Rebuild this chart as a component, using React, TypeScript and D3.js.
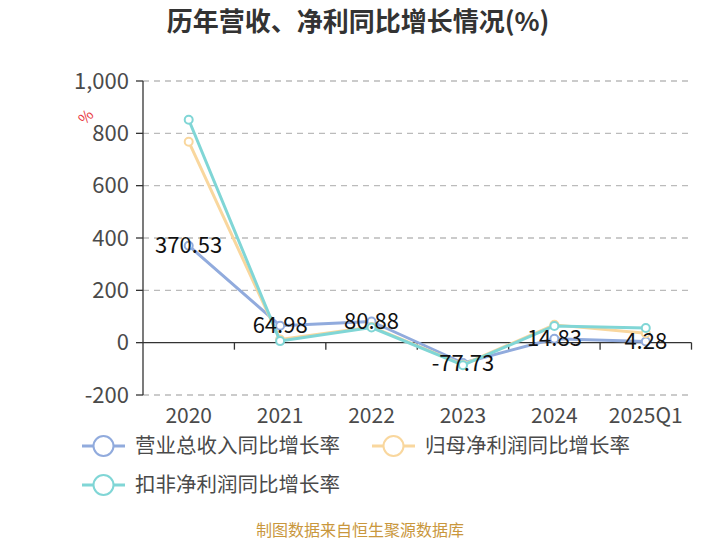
import React from 'react';
import * as d3 from 'd3';

const categories = ['2020', '2021', '2022', '2023', '2024', '2025Q1'];
const revenueGrowth = [370.53, 64.98, 80.88, -77.73, 14.83, 4.28];
const netProfitGrowth = [768, 12, 60, -84, 68, 36];
const deductedProfitGrowth = [852, 6, 58, -86, 64, 56];
const yTicks = [-200, 0, 200, 400, 600, 800, 1000];

const seriesNames = ['营业总收入同比增长率', '归母净利润同比增长率', '扣非净利润同比增长率'];
const seriesColors = ['#91abdd', '#f9d79e', '#80d6d6'];

const FONT = '"Noto Sans CJK SC", "Noto Sans", sans-serif';

const App: React.FC = () => {
    const width = 720;
    const height = 540;

    const x = d3.scaleBand<string>().domain(categories).range([143, 691.5]);
    const y = d3.scaleLinear().domain([-200, 1000]).range([395, 81]);
    const cx = (c: string) => (x(c) as number) + x.bandwidth() / 2;

    const line = d3.line<number>()
        .x((d, i) => cx(categories[i]))
        .y((d) => y(d));

    const allSeries = [revenueGrowth, netProfitGrowth, deductedProfitGrowth];

    // legend positions
    const legendItems = [
        { x: 82, y: 446 },
        { x: 372, y: 446 },
        { x: 82, y: 485 },
    ];

    return (
        <svg width={width} height={height}
            style={{ position: 'absolute', left: 0, top: 0, fontFamily: FONT }}>
            <rect width={width} height={height} fill="#fff" />
            <text x={358} y={31} textAnchor="middle" fontSize={26} fontWeight="bold" fill="#333">
                历年营收、净利同比增长情况(%)
            </text>

            {/* grid */}
            {yTicks.filter((t) => t !== 0).map((t) => (
                <line key={t} x1={143} x2={691.5} y1={y(t)} y2={y(t)}
                    stroke="#bbb" strokeDasharray="6,5" strokeWidth={1.3} />
            ))}

            {/* y axis */}
            <line x1={143} x2={143} y1={y(1000)} y2={y(-200)} stroke="#333" strokeWidth={1.3} />
            {yTicks.map((t) => (
                <g key={t}>
                    <line x1={136} x2={143} y1={y(t)} y2={y(t)} stroke="#333" strokeWidth={1.3} />
                    <text x={129} y={y(t)} dy="0.35em" textAnchor="end" fontSize={22} fill="#4a4a4a">
                        {t < 0 ? '-' + d3.format(',')(-t) : d3.format(',')(t)}
                    </text>
                </g>
            ))}
            <text x={86} y={122} fontSize={15} fill="#e8363c" textAnchor="middle"
                transform="rotate(-45, 86, 117)">%</text>

            {/* x axis */}
            <line x1={143} x2={691.5} y1={y(0)} y2={y(0)} stroke="#333" strokeWidth={1.3} />
            {categories.map((c) => (
                <line key={'t' + c} x1={(x(c) as number) + x.bandwidth()} x2={(x(c) as number) + x.bandwidth()}
                    y1={y(0)} y2={y(0) + 7} stroke="#333" strokeWidth={1.3} />
            ))}
            {categories.map((c) => (
                <text key={c} x={cx(c)} y={423} textAnchor="middle" fontSize={21} fill="#4a4a4a">{c}</text>
            ))}

            {/* series */}
            {allSeries.map((s, k) => (
                <g key={k}>
                    <path d={line(s) as string} fill="none" stroke={seriesColors[k]} strokeWidth={3}
                        strokeLinejoin="round" />
                    {s.map((v, i) => (
                        <circle key={i} cx={cx(categories[i])} cy={y(v)} r={4}
                            fill="#fff" stroke={seriesColors[k]} strokeWidth={2} />
                    ))}
                </g>
            ))}

            {/* labels for revenue */}
            {revenueGrowth.map((v, i) => (
                <text key={i} x={cx(categories[i])} y={y(v)} dy="0.35em" textAnchor="middle"
                    fontSize={22} fill="#111">{v}</text>
            ))}

            {/* legend */}
            {legendItems.map((p, k) => (
                <g key={k}>
                    <line x1={p.x} x2={p.x + 43} y1={p.y} y2={p.y} stroke={seriesColors[k]} strokeWidth={3} />
                    <circle cx={p.x + 21.5} cy={p.y} r={10} fill="#fff" stroke={seriesColors[k]} strokeWidth={2} />
                    <text x={p.x + 53} y={p.y} dy="0.35em" fontSize={20.5} fill="#4a4a4a">{seriesNames[k]}</text>
                </g>
            ))}

            <text x={360} y={536} textAnchor="middle" fontSize={16} fill="#c9973d">制图数据来自恒生聚源数据库</text>
        </svg>
    );
};

export default App;
